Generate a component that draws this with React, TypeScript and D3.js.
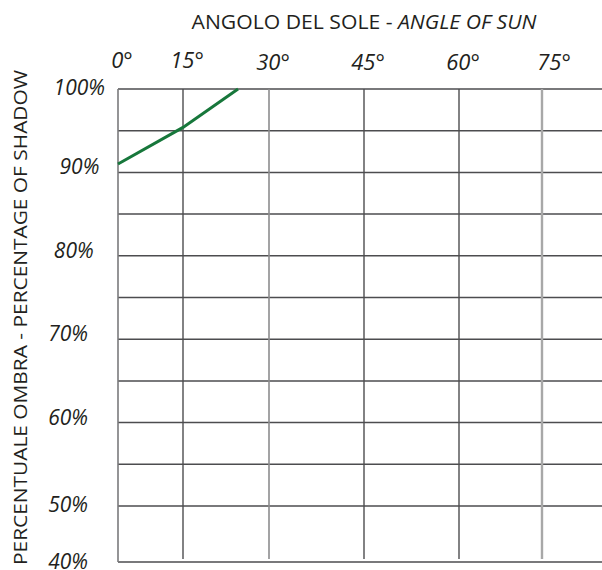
import * as d3 from 'd3'
import { useEffect } from 'react'

// chart data
const angleTicks = [0, 15, 30, 45, 60, 75]
const gridPercents = [40, 50, 55, 60, 65, 70, 75, 80, 85, 90, 95, 100]
const labelPercents = [40, 50, 60, 70, 80, 90, 100]
const shadowAngle = [0, 15, 24.6]
const shadowPercent = [91.0, 95.4, 100]

const width = 602
const height = 570
const font = '"Open Sans", Lato, sans-serif'
const textColor = '#231f20'
const gridColor = '#4d4d4f'

// the printed grid is not evenly spaced, so use piecewise scales
const xScale = d3.scaleLinear().domain(angleTicks).range([118, 183, 269, 364, 459, 542])
const yScale = d3.scaleLinear().domain([40, 50, 100]).range([562, 506, 89])

// some vertical rules are printed lighter
const verticalStyle: Record<number, { stroke: string; w: number }> = {
  0: { stroke: '#7a7a7c', w: 1.6 },
  15: { stroke: gridColor, w: 1.4 },
  30: { stroke: '#8c8c8e', w: 1.6 },
  45: { stroke: gridColor, w: 1.4 },
  60: { stroke: gridColor, w: 1.4 },
  75: { stroke: '#a8a8a8', w: 2.4 },
}

// labels sit a little above their rule, except the ends
const labelNudge = (p: number) => (p === 100 || p === 50 ? 6 : p === 40 ? 7 : 2)

const App = () => {
  useEffect(() => {
    document.body.style.margin = '0'
  }, [])

  const line = d3
    .line<number>()
    .x((_, i) => xScale(shadowAngle[i]))
    .y((d) => yScale(d))

  return (
    <svg width={width} height={height} style={{ display: 'block', background: '#fff' }}>
      {/* title */}
      <text
        x={364}
        y={29}
        textAnchor="middle"
        fontFamily={font}
        fontSize={20.5}
        fill={textColor}
        textLength={345}
        lengthAdjust="spacingAndGlyphs"
      >
        ANGOLO DEL SOLE - <tspan fontStyle="italic">ANGLE OF SUN</tspan>
      </text>

      {/* y axis title */}
      <text
        transform={`translate(27, ${(565 + 70) / 2}) rotate(-90)`}
        textAnchor="middle"
        fontFamily={font}
        fontSize={19}
        fill={textColor}
        textLength={495}
        lengthAdjust="spacingAndGlyphs"
      >
        PERCENTUALE OMBRA - PERCENTAGE OF SHADOW
      </text>

      {/* horizontal grid */}
      {gridPercents.map((p) => (
        <line
          key={`h${p}`}
          x1={xScale(0)}
          x2={width}
          y1={yScale(p)}
          y2={yScale(p)}
          stroke={gridColor}
          strokeWidth={1.5}
        />
      ))}

      {/* vertical grid */}
      {angleTicks.map((a) => (
        <line
          key={`v${a}`}
          x1={xScale(a)}
          x2={xScale(a)}
          y1={yScale(100)}
          y2={a === 0 ? yScale(40) : yScale(40) - 3}
          stroke={verticalStyle[a].stroke}
          strokeWidth={verticalStyle[a].w}
        />
      ))}

      {/* x tick labels */}
      {angleTicks.map((a) => (
        <text
          key={`xl${a}`}
          x={xScale(a) + (a === 75 ? 12 : 4)}
          y={a < 30 ? 68 : 70}
          textAnchor="middle"
          fontFamily={font}
          fontStyle="italic"
          fontSize={22}
          fill={textColor}
        >
          {a}°
        </text>
      ))}

      {/* y tick labels */}
      {labelPercents.map((p) => (
        <text
          key={`yl${p}`}
          x={88 + (Math.max(0, p - 70) / 30) * 17}
          y={yScale(p) + labelNudge(p)}
          textAnchor="end"
          fontFamily={font}
          fontStyle="italic"
          fontSize={21}
          fill={textColor}
        >
          {p}%
        </text>
      ))}

      {/* shadow curve */}
      <path d={line(shadowPercent) ?? ''} fill="none" stroke="#17773b" strokeWidth={3} />
    </svg>
  )
}

export default App
